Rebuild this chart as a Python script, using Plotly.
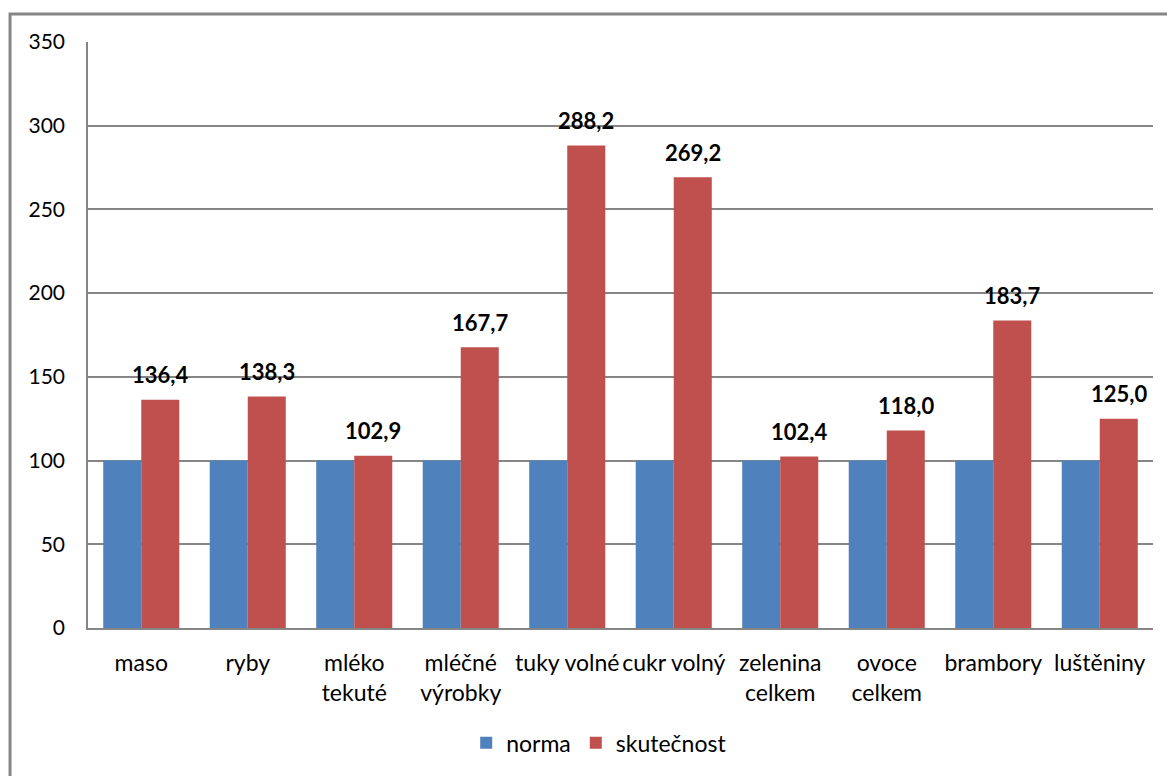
import plotly.graph_objects as go

# Food consumption: recommended norm vs. actual (index, norm = 100)
categories = ["maso", "ryby", "mléko tekuté", "mléčné výrobky", "tuky volné",
              "cukr volný", "zelenina celkem", "ovoce celkem", "brambory", "luštěniny"]
tick_labels = ["maso", "ryby", "mléko<br>tekuté", "mléčné<br>výrobky", "tuky volné",
               "cukr volný", "zelenina<br>celkem", "ovoce<br>celkem", "brambory", "luštěniny"]
norma = [100, 100, 100, 100, 100, 100, 100, 100, 100, 100]
skutecnost = [136.4, 138.3, 102.9, 167.7, 288.2, 269.2, 102.4, 118.0, 183.7, 125.0]
y_ticks = [0, 50, 100, 150, 200, 250, 300, 350]

BLUE = "#4F81BD"
RED = "#C0504D"
GREY = "#868686"
FONT = "Lato"

fig = go.Figure()
fig.add_trace(go.Bar(x=categories, y=norma, name="norma", marker_color=BLUE,
                     marker_line_width=0))
fig.add_trace(go.Bar(x=categories, y=skutecnost, name="skutečnost", marker_color=RED,
                     marker_line_width=0))

# value labels above the red bars (decimal comma)
for cat, v in zip(categories, skutecnost):
    fig.add_annotation(x=cat, y=v, text="<b>" + f"{v:.1f}".replace(".", ",") + "</b>",
                       showarrow=False, xshift=19, yshift=25,
                       font=dict(family=FONT, size=22, color="#000000"))

# outer chart frame
fig.add_shape(type="rect", xref="paper", yref="paper",
              x0=-0.0732, x1=1.3, y0=-0.6, y1=1.0476,
              line=dict(color=GREY, width=3), fillcolor="rgba(0,0,0,0)", layer="below")

fig.update_layout(
    width=1167, height=776,
    margin=dict(l=88, r=14, t=42, b=146),
    paper_bgcolor="white", plot_bgcolor="white",
    barmode="group", bargap=0.286, bargroupgap=0,
    font=dict(family=FONT, size=21, color="#000000"),
    showlegend=True,
    legend=dict(orientation="h", x=0.48, y=-0.196, xanchor="center", yanchor="middle",
                font=dict(family=FONT, size=23), itemwidth=30, traceorder="normal"),
)
fig.update_xaxes(tickmode="array", tickvals=categories, ticktext=tick_labels,
                 showline=True, linecolor=GREY, linewidth=1.5, showgrid=False,
                 ticks="", ticklabelstandoff=14,
                 tickfont=dict(family=FONT, size=23))
fig.update_yaxes(range=[0, 350], tickvals=y_ticks, showgrid=True, gridcolor=GREY,
                 gridwidth=1.5, showline=True, linecolor=GREY, linewidth=1.5,
                 zeroline=False, ticks="", ticklabelstandoff=17,
                 tickfont=dict(family=FONT, size=21))

fig.write_html("out.html")
